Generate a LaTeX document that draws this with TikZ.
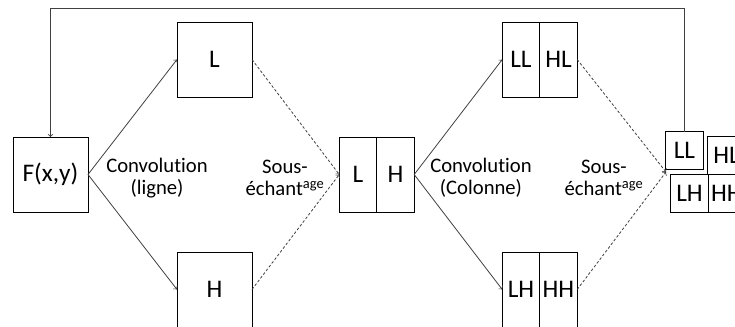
\documentclass[tikz,border=0pt]{standalone}
\usepackage{fontspec}
\setmainfont{Carlito}[Ligatures=NoCommon]
\usetikzlibrary{positioning}
\begin{document}
\begin{tikzpicture}[x=0.75pt,y=-0.75pt]
  \tikzset{BoxStyle/.style = {
    shape         = rectangle,
    draw          = black,
    fill          = white,
    line width    = 0.6pt,
    text          = black,
    inner sep     = 0pt,
    outer sep     = 0pt,
    minimum width = 56.25pt,
    minimum height= 56.25pt,
    font          = \fontsize{19}{22}\selectfont
    }
  }
  \tikzset{HalfStyle/.style = {BoxStyle, minimum width = 28.1pt}}
  \tikzset{SmallStyle/.style = {BoxStyle, minimum width = 28.1pt, minimum height = 28.1pt}}
  \tikzset{EdgeStyle/.style = {
    draw          = black!75,
    line width    = 0.6pt,
    ->
    }
  }
  \tikzset{SampleStyle/.style = {EdgeStyle, dash pattern = on 2pt off 1.5pt}}
  \tikzset{LabelStyle/.style = {
    align         = center,
    text          = black,
    font          = \fontsize{15.5}{16.5}\selectfont
    }
  }

  \useasboundingbox (0,0) rectangle (735,326);

	\node[BoxStyle](F) at (50.5, 174.5) {F(x,y)};
	\node[BoxStyle](L) at (214.5, 59.5) {L};
	\node[BoxStyle](H) at (214.5, 289.5) {H};
	\node[HalfStyle](ML) at (358, 174.5) {L};
	\node[HalfStyle, right=0pt of ML](MH) {H};
	\node[HalfStyle](LL) at (521, 59.5) {LL};
	\node[HalfStyle, right=0pt of LL](HL) {HL};
	\node[HalfStyle](LH) at (521, 289.5) {LH};
	\node[HalfStyle, right=0pt of LH](HH) {HH};
	\node[SmallStyle](fLL) at (684.5, 150.5) {LL};
	\node[SmallStyle](fHL) at (726.5, 155.5) {HL};
	\node[SmallStyle](fLH) at (689.5, 193.5) {LH};
	\node[SmallStyle, right=0pt of fLH](fHH) {HH};
	\coordinate (in) at (666, 172);
	\coordinate (loop) at (50.5, 8);

	\draw[EdgeStyle](F.east) to (L.west);
	\draw[EdgeStyle](F.east) to (H.west);
	\draw[SampleStyle](L.east) to (ML.west);
	\draw[SampleStyle](H.east) to (ML.west);
	\draw[EdgeStyle](MH.east) to (LL.west);
	\draw[EdgeStyle](MH.east) to (LH.west);
	\draw[SampleStyle](HL.east) to (in);
	\draw[SampleStyle](HH.east) to (in);
	\draw[EdgeStyle](fLL.north) |- (loop) -- (F.north);

	\node[LabelStyle](conv1) at (157, 178) {Convolution\\(ligne)};
	\node[LabelStyle](samp1) at (285, 178) {Sous-\\échant\textsuperscript{age}};
	\node[LabelStyle](conv2) at (481, 178) {Convolution\\(Colonne)};
	\node[LabelStyle](samp2) at (604, 178) {Sous-\\échant\textsuperscript{age}};
  \end{tikzpicture}
\end{document}
